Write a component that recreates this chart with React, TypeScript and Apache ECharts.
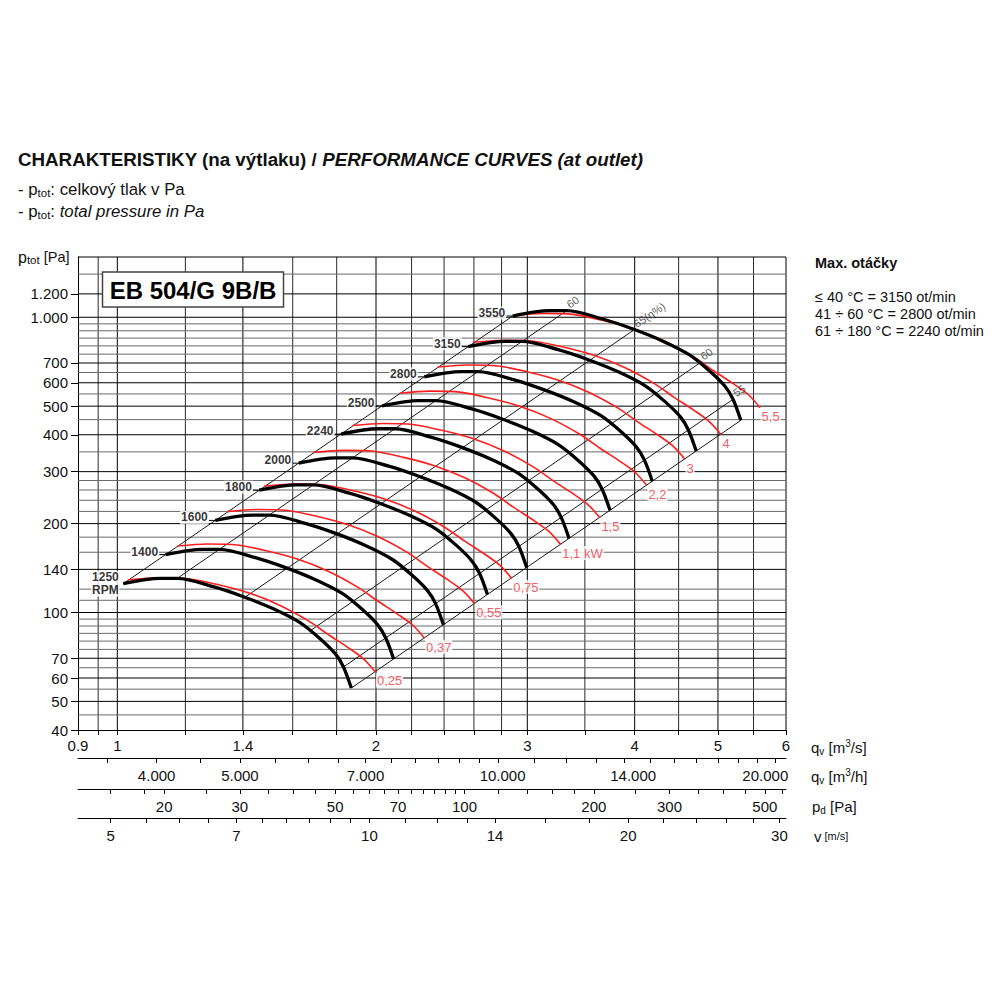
import React, { useEffect, useRef } from "react";
import * as echarts from "echarts";

const FONT = "'Liberation Sans', Arial, Helvetica, sans-serif";

// ---- main axes ----
const X_MIN = 0.9;
const X_MAX = 6;
const Y_MIN = 40;
const Y_MAX = 1600;

const X_GRID = [0.95, 1, 1.2, 1.4, 1.6, 1.8, 2, 2.2, 2.4, 2.6, 2.8, 3, 3.5, 4, 4.5, 5, 5.5, 6];
const X_TICKS = [0.9, 0.95, 1, 1.2, 1.4, 1.6, 1.8, 2, 2.2, 2.4, 2.6, 2.8, 3, 3.5, 4, 4.5, 5, 5.5, 6];
const X_LABELS = [0.9, 1, 1.4, 2, 3, 4, 5, 6];
const Y_LABELS = [40, 50, 60, 70, 100, 140, 200, 300, 400, 500, 600, 700, 1000, 1200];
const Y_GRID_MAJOR = [50, 60, 70, 100, 140, 200, 300, 400, 500, 600, 700, 1000, 1200, 1600];
const Y_GRID_MINOR = [45, 55, 65, 75, 80, 85, 90, 95, 110, 120, 160, 180, 220, 240, 260, 280, 350, 450, 550, 650, 750, 800, 850, 900, 950, 1400];

// ---- secondary scales ----
const M3H_MIN = 3240;
const M3H_MAX = 21600;
const M3H_TICKS = [3500, 4000, 4500, 5000, 5500, 6000, 6500, 7000, 7500, 8000, 8500, 9000, 9500, 10000, 11000, 12000, 13000, 14000, 15000, 16000, 17000, 18000, 19000, 20000, 21000];
const M3H_LABELS = [4000, 5000, 7000, 10000, 14000, 20000];
const PD_MIN = 12.6;
const PD_MAX = 560;
const PD_TICKS = [15, 18, 20, 25, 30, 35, 40, 45, 50, 55, 60, 65, 70, 75, 80, 85, 90, 95, 100, 120, 140, 160, 180, 200, 250, 300, 350, 400, 450, 500, 550];
const PD_LABELS = [20, 30, 50, 70, 100, 200, 300, 500];
const V_MIN = 4.58;
const V_MAX = 30.53;
const V_TICKS = [5, 5.5, 6, 6.5, 7, 7.5, 8, 8.5, 9, 9.5, 10, 11, 12, 13, 14, 16, 18, 20, 22, 24, 26, 28, 30];
const V_LABELS = [5, 7, 10, 14, 20, 30];

// ---- fan curves (black) [qv m3/s, ptot Pa] ----
const RPM_LABELS = ["1250\nRPM", "1400", "1600", "1800", "2000", "2240", "2500", "2800", "3150", "3550"];
const bk1250 = [[1.016, 125.2], [1.122, 130.5], [1.174, 130.5], [1.293, 122.3], [1.402, 113.1], [1.519, 102.9], [1.633, 92.3], [1.723, 81.4], [1.794, 72.4], [1.833, 65.4], [1.872, 55.5]];
const bk1400 = [[1.138, 157.1], [1.257, 163.7], [1.315, 163.7], [1.448, 153.4], [1.57, 141.9], [1.701, 129.1], [1.829, 115.8], [1.93, 102.1], [2.009, 90.8], [2.053, 82.0], [2.097, 69.6]];
const bk1600 = [[1.3, 205.1], [1.436, 213.8], [1.503, 213.8], [1.655, 200.4], [1.795, 185.3], [1.944, 168.6], [2.09, 151.2], [2.205, 133.4], [2.296, 118.6], [2.346, 107.2], [2.396, 90.9]];
const bk1800 = [[1.463, 259.6], [1.616, 270.6], [1.691, 270.6], [1.862, 253.6], [2.019, 234.5], [2.187, 213.4], [2.352, 191.4], [2.481, 168.8], [2.583, 150.1], [2.64, 135.6], [2.696, 115.1]];
const bk2000 = [[1.626, 320.5], [1.795, 334.1], [1.878, 334.1], [2.069, 313.1], [2.243, 289.5], [2.43, 263.4], [2.613, 236.3], [2.757, 208.4], [2.87, 185.3], [2.933, 167.4], [2.995, 142.1]];
const bk2240 = [[1.821, 402.1], [2.011, 419.1], [2.104, 419.1], [2.317, 392.7], [2.512, 363.2], [2.722, 330.4], [2.926, 296.4], [3.088, 261.4], [3.215, 232.5], [3.285, 210.0], [3.355, 178.2]];
const bk2500 = [[2.032, 500.8], [2.244, 522], [2.348, 522], [2.586, 489.2], [2.804, 452.4], [3.038, 411.6], [3.266, 369.2], [3.446, 325.6], [3.588, 289.6], [3.666, 261.6], [3.744, 222]];
const bk2800 = [[2.276, 628.2], [2.513, 654.8], [2.63, 654.8], [2.896, 613.7], [3.14, 567.5], [3.403, 516.3], [3.658, 463.1], [3.86, 408.4], [4.019, 363.3], [4.106, 328.2], [4.193, 278.5]];
const bk3150 = [[2.56, 795.1], [2.827, 828.7], [2.958, 828.7], [3.258, 776.7], [3.533, 718.2], [3.828, 653.5], [4.115, 586.1], [4.342, 516.9], [4.521, 459.8], [4.619, 415.3], [4.717, 352.4]];
const bk3550 = [[2.885, 1009.8], [3.186, 1052.6], [3.334, 1052.6], [3.672, 986.4], [3.982, 912.2], [4.314, 830.0], [4.638, 744.5], [4.893, 656.5], [5.095, 584.0], [5.206, 527.5], [5.316, 447.6]];
const BLACK_CURVES = [bk1250, bk1400, bk1600, bk1800, bk2000, bk2240, bk2500, bk2800, bk3150, bk3550];

// ---- motor curves (red) ----
const POWER_LABELS = ["0,25", "0,37", "0,55", "0,75", "1,1 kW", "1,5", "2,2", "3", "4", "5,5"];
const rd025 = [[1.029, 129.1], [1.116, 131.2], [1.209, 130.2], [1.311, 124.2], [1.42, 116.7], [1.54, 106.3], [1.669, 93.7], [1.761, 84.1], [1.858, 75.9], [1.934, 69.7], [1.997, 62.9]];
const rd037 = [[1.174, 168.0], [1.273, 170.7], [1.379, 169.4], [1.495, 161.6], [1.62, 151.8], [1.757, 138.3], [1.904, 121.9], [2.009, 109.4], [2.119, 98.8], [2.206, 90.7], [2.278, 81.8]];
const rd055 = [[1.342, 219.7], [1.456, 223.3], [1.577, 221.6], [1.71, 211.4], [1.852, 198.6], [2.009, 180.9], [2.177, 159.5], [2.297, 143.0], [2.424, 129.2], [2.523, 118.6], [2.605, 107.0]];
const rd075 = [[1.482, 267.9], [1.608, 272.3], [1.742, 270.2], [1.889, 257.8], [2.046, 242.2], [2.219, 220.6], [2.404, 194.5], [2.537, 174.4], [2.677, 157.5], [2.786, 144.7], [2.877, 130.5]];
const rd110 = [[1.691, 348.5], [1.834, 354.2], [1.986, 351.5], [2.154, 335.3], [2.333, 315.0], [2.53, 287.0], [2.742, 252.9], [2.893, 226.9], [3.053, 204.9], [3.178, 188.2], [3.281, 169.8]];
const rd150 = [[1.877, 429.8], [2.036, 436.7], [2.206, 433.4], [2.392, 413.4], [2.591, 388.5], [2.81, 353.9], [3.045, 311.9], [3.213, 279.8], [3.39, 252.7], [3.529, 232.0], [3.644, 209.4]];
const rd220 = [[2.13, 553.0], [2.31, 562.0], [2.502, 557.7], [2.713, 532.0], [2.939, 499.9], [3.187, 455.4], [3.454, 401.4], [3.645, 360.1], [3.846, 325.1], [4.003, 298.6], [4.133, 269.4]];
const rd300 = [[2.359, 678.3], [2.558, 689.3], [2.771, 684.0], [3.005, 652.5], [3.255, 613.1], [3.53, 558.5], [3.826, 492.3], [4.036, 441.6], [4.259, 398.8], [4.433, 366.2], [4.577, 330.5]];
const rd400 = [[2.598, 822.7], [2.817, 836.1], [3.052, 829.7], [3.31, 791.5], [3.585, 743.7], [3.888, 677.4], [4.213, 597.1], [4.446, 535.6], [4.69, 483.7], [4.882, 444.2], [5.041, 400.8]];
const rd550 = [[2.884, 1014.3], [3.128, 1030.8], [3.389, 1023.0], [3.675, 975.8], [3.98, 916.9], [4.317, 835.2], [4.678, 736.2], [4.936, 660.4], [5.208, 596.3], [5.421, 547.6], [5.598, 494.2]];
const RED_CURVES = [rd025, rd037, rd055, rd075, rd110, rd150, rd220, rd300, rd400, rd550];

// ---- efficiency / limit lines ----
const EFF_LABELS = ["", "60", "65(η%)", "60", "55", ""];
const eff0 = [[1.016, 125.2], [2.885, 1009.8]];
const eff1 = [[1.174, 130.5], [3.334, 1052.6]];
const eff2 = [[1.405, 112.2], [3.99, 905.0]];
const eff3 = [[1.68, 87.1], [4.771, 702.5]];
const eff4 = [[1.833, 65.4], [5.206, 527.5]];
const eff5 = [[1.872, 55.5], [5.316, 447.6]];
const EFF_LINES = [eff0, eff1, eff2, eff3, eff4, eff5];

const LEADER = 1.017;

const dotThousands = (v: number) => {
  const r = Math.round(v);
  return r >= 1000 ? Math.floor(r / 1000) + "." + String(r % 1000).padStart(3, "0") : String(r);
};
const fmtDec = (v: number) => String(Math.round(v * 100) / 100);
const fmtM3h = (v: number) => {
  const r = Math.round(v);
  const s = dotThousands(r);
  if (r === 10000) return "{a|" + s + "}";
  if (r === 14000) return "{b|" + s + "}";
  if (r === 20000) return "{c|" + s + "}";
  return s;
};

const tok = (size: number, extra: any = {}) => ({
  fontSize: size,
  fontFamily: FONT,
  fill: "#111",
  lineHeight: 18,
  verticalAlign: "middle",
  ...extra,
});

const richAxis = {
  m: tok(15),
  s: tok(10, { lineHeight: 8, verticalAlign: "bottom" }),
  p: tok(10, { lineHeight: 12, verticalAlign: "top" }),
  n: tok(11),
};
const richNote = {
  m: tok(16.8, { lineHeight: 20 }),
  s: tok(11.5, { lineHeight: 9, verticalAlign: "bottom" }),
  i: tok(16.8, { lineHeight: 20, fontStyle: "italic" }),
};
const richTitle = {
  b: tok(18.75, { lineHeight: 22, fontWeight: "bold" }),
  bi: tok(18.75, { lineHeight: 22, fontWeight: "bold", fontStyle: "italic" }),
};
const richY = {
  m: tok(16),
  s: tok(11.5, { lineHeight: 9, verticalAlign: "bottom" }),
  n: tok(14.5),
};

const gText = (x: number, y: number, text: string, rich: any) => ({
  type: "text",
  x,
  y,
  z: 100,
  silent: true,
  style: { text, rich, verticalAlign: "middle", align: "left" },
});
const pText = (x: number, y: number, text: string, size: number, bold = false) => ({
  type: "text",
  x,
  y,
  z: 100,
  silent: true,
  style: {
    text,
    fontSize: size,
    fontFamily: FONT,
    fontWeight: bold ? "bold" : "normal",
    fill: "#111",
    verticalAlign: "middle",
    align: "left",
  },
});

function buildOption() {
  const seg = (data: number[][], color: string, width: number, z: number) => ({
    type: "line",
    data,
    symbol: "none",
    showSymbol: false,
    silent: true,
    clip: false,
    z,
    lineStyle: { color, width },
    animation: false,
  });

  const series: any[] = [];
  X_GRID.forEach((v) => series.push(seg([[v, Y_MIN], [v, Y_MAX]], X_LABELS.includes(v) ? "#000" : "#2a2a2a", 1, 1)));
  Y_GRID_MINOR.forEach((v) => series.push(seg([[X_MIN, v], [X_MAX, v]], "#6a6a6a", 1, 1)));
  Y_GRID_MAJOR.forEach((v) => series.push(seg([[X_MIN, v], [X_MAX, v]], "#000", 1, 1)));

  EFF_LINES.forEach((l) => series.push(seg(l, "#1a1a1a", 1, 2)));

  RED_CURVES.forEach((c) =>
    series.push({
      type: "line",
      data: c,
      symbol: "none",
      smooth: 0.3,
      silent: true,
      z: 3,
      lineStyle: { color: "#ff1e1e", width: 1.6 },
      animation: false,
    })
  );
  BLACK_CURVES.forEach((c) =>
    series.push({
      type: "line",
      data: c,
      symbol: "none",
      smooth: 0.3,
      silent: true,
      z: 4,
      lineStyle: { color: "#000", width: 3.3 },
      animation: false,
    })
  );
  BLACK_CURVES.slice(1).forEach((c) =>
    series.push(seg([[c[0][0] / LEADER, c[0][1]], c[0]], "#000", 1, 5))
  );

  series.push({
    type: "scatter",
    z: 10,
    symbolSize: 1,
    silent: true,
    itemStyle: { color: "rgba(0,0,0,0)" },
    data: BLACK_CURVES.map((c, i) => ({
      value: c[0],
      label: { formatter: RPM_LABELS[i], distance: i === 0 ? 3 : 6, offset: i === 0 ? [0, 0] : [0, -3] },
    })),
    label: {
      show: true,
      position: "left",
      fontSize: 12,
      fontWeight: "bold",
      fontFamily: FONT,
      color: "#000",
      lineHeight: 13,
      backgroundColor: "#fff",
      padding: [0, 1],
    },
    animation: false,
  });

  series.push({
    type: "scatter",
    z: 10,
    symbolSize: 1,
    silent: true,
    itemStyle: { color: "rgba(0,0,0,0)" },
    data: RED_CURVES.map((c, i) => ({ value: c[c.length - 1], label: { formatter: POWER_LABELS[i] } })),
    label: {
      show: true,
      position: [1, 2],
      align: "left",
      verticalAlign: "top",
      fontSize: 13,
      fontFamily: FONT,
      color: "#f0303c",
      backgroundColor: "#fff",
      padding: [1, 1, 0, 1],
    },
    animation: false,
  });

  series.push({
    type: "scatter",
    z: 10,
    symbolSize: 1,
    silent: true,
    itemStyle: { color: "rgba(0,0,0,0)" },
    data: EFF_LINES.map((l, i) => ({ value: l[1], label: { formatter: EFF_LABELS[i] } })).filter(
      (_d, i) => EFF_LABELS[i] !== ""
    ),
    label: {
      show: true,
      position: [1.6, -4.7],
      align: "left",
      verticalAlign: "middle",
      rotate: 34.5,
      fontSize: 11,
      fontFamily: FONT,
      color: "#333",
    },
    animation: false,
  });

  const axisBase = (extra: any) => ({
    type: "log",
    logBase: 10,
    gridIndex: 0,
    position: "bottom",
    splitLine: { show: false },
    minorTick: { show: false },
    minorSplitLine: { show: false },
    axisPointer: { show: false },
    axisLine: { show: true, onZero: false, lineStyle: { color: "#000", width: 1 } },
    ...extra,
  });
  const lbl = (values: number[], fmt: (v: number) => string, margin: number, rich?: any) => ({
    show: true,
    customValues: values,
    formatter: fmt,
    margin,
    fontSize: 15,
    fontFamily: FONT,
    color: "#111",
    interval: 0,
    ...(rich ? { rich } : {}),
  });
  const tck = (values: number[], length: number) => ({
    show: true,
    customValues: values,
    length,
    inside: false,
    lineStyle: { color: "#000", width: 1 },
  });

  const m3hRich = {
    a: { fontSize: 15, fontFamily: FONT, color: "#111", padding: [0, 0, 0, 8] },
    b: { fontSize: 15, fontFamily: FONT, color: "#111", padding: [0, 0, 0, 18] },
    c: { fontSize: 15, fontFamily: FONT, color: "#111", padding: [0, 0, 0, 16] },
  };

  const graphic: any[] = [
    gText(18, 159, "{b|CHARAKTERISTIKY (na výtlaku) / }{bi|PERFORMANCE CURVES (at outlet)}", richTitle),
    gText(18, 189, "{m|- p}{s|tot}{m|: celkový tlak v Pa}", richNote),
    gText(18, 211, "{m|- p}{s|tot}{m|: }{i|total pressure in Pa}", richNote),
    gText(18, 257, "{m|p}{s|tot}{n| [Pa]}", richY),
    gText(811, 747, "{m|q}{s|v}{m| [m}{p|3}{m|/s]}", richAxis),
    gText(811, 776.5, "{m|q}{s|v}{m| [m}{p|3}{m|/h]}", richAxis),
    gText(812, 806.5, "{m|p}{s|d}{m| [Pa]}", richAxis),
    gText(814, 836, "{m|v}{n| [m/s]}", richAxis),
    pText(815, 262.5, "Max. otáčky", 14.5, true),
    pText(815, 296.5, "≤ 40 °C = 3150 ot/min", 14.5),
    pText(815, 313.5, "41 ÷ 60 °C = 2800 ot/min", 14.5),
    pText(815, 330.5, "61 ÷ 180 °C = 2240 ot/min", 14.5),
    {
      type: "rect",
      z: 100,
      silent: true,
      shape: { x: 102.5, y: 272, width: 181, height: 35 },
      style: { fill: "#fff", stroke: "#444", lineWidth: 1.5 },
    },
    {
      type: "text",
      z: 101,
      silent: true,
      x: 193,
      y: 290,
      style: {
        text: "EB 504/G 9B/B",
        fontSize: 24,
        fontWeight: "bold",
        fontFamily: FONT,
        fill: "#000",
        align: "center",
        verticalAlign: "middle",
      },
    },
  ];

  return {
    animation: false,
    backgroundColor: "#fff",
    grid: { left: 78, right: 214, top: 257, bottom: 270, containLabel: false, outerBoundsMode: "none" },
    xAxis: [
      axisBase({
        min: X_MIN,
        max: X_MAX,
        axisTick: tck(X_TICKS, 5),
        axisLabel: lbl(X_LABELS, fmtDec, 8),
      }),
      axisBase({
        min: M3H_MIN,
        max: M3H_MAX,
        offset: 28,
        axisTick: tck(M3H_TICKS, 5),
        axisLabel: lbl(M3H_LABELS, fmtM3h, 10, m3hRich),
      }),
      axisBase({
        min: PD_MIN,
        max: PD_MAX,
        offset: 59,
        axisTick: tck(PD_TICKS, 5),
        axisLabel: lbl(PD_LABELS, dotThousands, 9.5),
      }),
      axisBase({
        min: V_MIN,
        max: V_MAX,
        offset: 88,
        axisTick: tck(V_TICKS, 5),
        axisLabel: lbl(V_LABELS, fmtDec, 9.5),
      }),
    ],
    yAxis: [
      {
        type: "log",
        logBase: 10,
        min: Y_MIN,
        max: Y_MAX,
        position: "left",
        splitLine: { show: false },
        minorTick: { show: false },
        axisPointer: { show: false },
        axisLine: { show: true, onZero: false, lineStyle: { color: "#000", width: 1 } },
        axisTick: { show: true, customValues: Y_LABELS, length: 7, inside: false, lineStyle: { color: "#000" } },
        axisLabel: {
          show: true,
          customValues: Y_LABELS,
          formatter: dotThousands,
          margin: 10,
          fontSize: 15,
          fontFamily: FONT,
          color: "#111",
          interval: 0,
        },
      },
    ],
    series,
    graphic,
  };
}

export default function App() {
  const ref = useRef<HTMLDivElement>(null);
  useEffect(() => {
    if (!ref.current) return;
    const chart = echarts.init(ref.current, undefined, { renderer: "svg", width: 1000, height: 1000 });
    chart.setOption(buildOption() as any);
    return () => chart.dispose();
  }, []);
  return (
    <div
      ref={ref}
      style={{ position: "fixed", left: 0, top: 0, width: 1000, height: 1000, background: "#fff" }}
    />
  );
}
